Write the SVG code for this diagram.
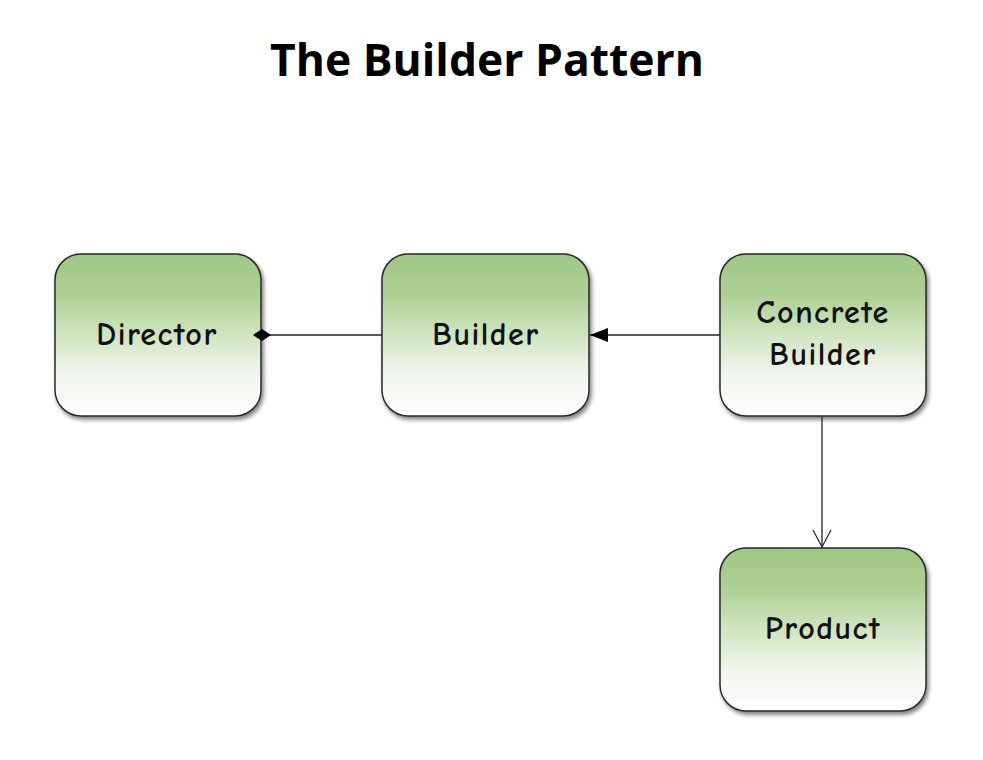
<svg xmlns="http://www.w3.org/2000/svg" width="983" height="760" viewBox="0 0 983 760">
<defs>
<linearGradient id="g" x1="0" y1="0" x2="0" y2="1">
<stop offset="0" stop-color="#9fc784"/>
<stop offset="0.25" stop-color="#add093"/>
<stop offset="0.55" stop-color="#d6e8c9"/>
<stop offset="0.75" stop-color="#f1f5ee"/>
<stop offset="1" stop-color="#ffffff"/>
</linearGradient>
<filter id="sh" x="-10%" y="-10%" width="130%" height="130%">
<feGaussianBlur in="SourceAlpha" stdDeviation="2"/>
<feOffset dx="2" dy="3"/>
<feComponentTransfer><feFuncA type="linear" slope="0.5"/></feComponentTransfer>
<feMerge><feMergeNode/><feMergeNode in="SourceGraphic"/></feMerge>
</filter>
<marker id="diamond" viewBox="0 0 18 12" refX="9" refY="6" markerWidth="18" markerHeight="12" markerUnits="userSpaceOnUse" orient="auto">
<path d="M0,6 L9,0 L18,6 L9,12 Z" fill="#000"/>
</marker>
<marker id="tri" viewBox="0 0 18 14" refX="18" refY="7" markerWidth="18" markerHeight="14" markerUnits="userSpaceOnUse" orient="auto">
<path d="M0,0 L18,7 L0,14 Z" fill="#000"/>
</marker>
<marker id="open" viewBox="0 0 20 20" refX="10" refY="18" markerWidth="20" markerHeight="20" markerUnits="userSpaceOnUse" orient="0">
<path d="M1,1 L10,18 L19,1" fill="none" stroke="#222" stroke-width="1.2"/>
</marker>
</defs>
<style>
.box{fill:url(#g);stroke:#2a2a2a;stroke-width:1.5;filter:url(#sh)}
.lbl{font-family:"Comic Neue","Comic Sans MS","DejaVu Sans",sans-serif;font-weight:bold;font-size:32px;letter-spacing:1.5px;fill:#111;text-anchor:middle}
.title{font-family:"Open Sans","Noto Sans",sans-serif;font-weight:bold;font-size:44px;fill:#000;text-anchor:middle}
.conn{stroke:#222;stroke-width:1.3;fill:none}
</style>
<rect width="983" height="760" fill="#fff"/>
<text class="title" x="487" y="76" textLength="434" lengthAdjust="spacingAndGlyphs">The Builder Pattern</text>
<g id="director">
<rect class="box" x="55" y="254" width="206" height="162" rx="26"/>
<text class="lbl" x="157" y="345">Director</text>
</g>
<g id="builder">
<rect class="box" x="382" y="254" width="207" height="162" rx="26"/>
<text class="lbl" x="486" y="345">Builder</text>
</g>
<g id="concrete-builder">
<rect class="box" x="720" y="254" width="206" height="162" rx="26"/>
<text class="lbl" x="823" y="323">Concrete</text>
<text class="lbl" x="823" y="365">Builder</text>
</g>
<g id="product">
<rect class="box" x="720" y="548" width="206" height="163" rx="26"/>
<text class="lbl" x="823" y="639">Product</text>
</g>
<g id="connectors">
<line class="conn" x1="382" y1="335" x2="262" y2="335" marker-end="url(#diamond)"/>
<line class="conn" x1="720" y1="335" x2="590" y2="335" marker-end="url(#tri)"/>
<line class="conn" x1="822" y1="417" x2="822" y2="547" marker-end="url(#open)"/>
</g>
</svg>
